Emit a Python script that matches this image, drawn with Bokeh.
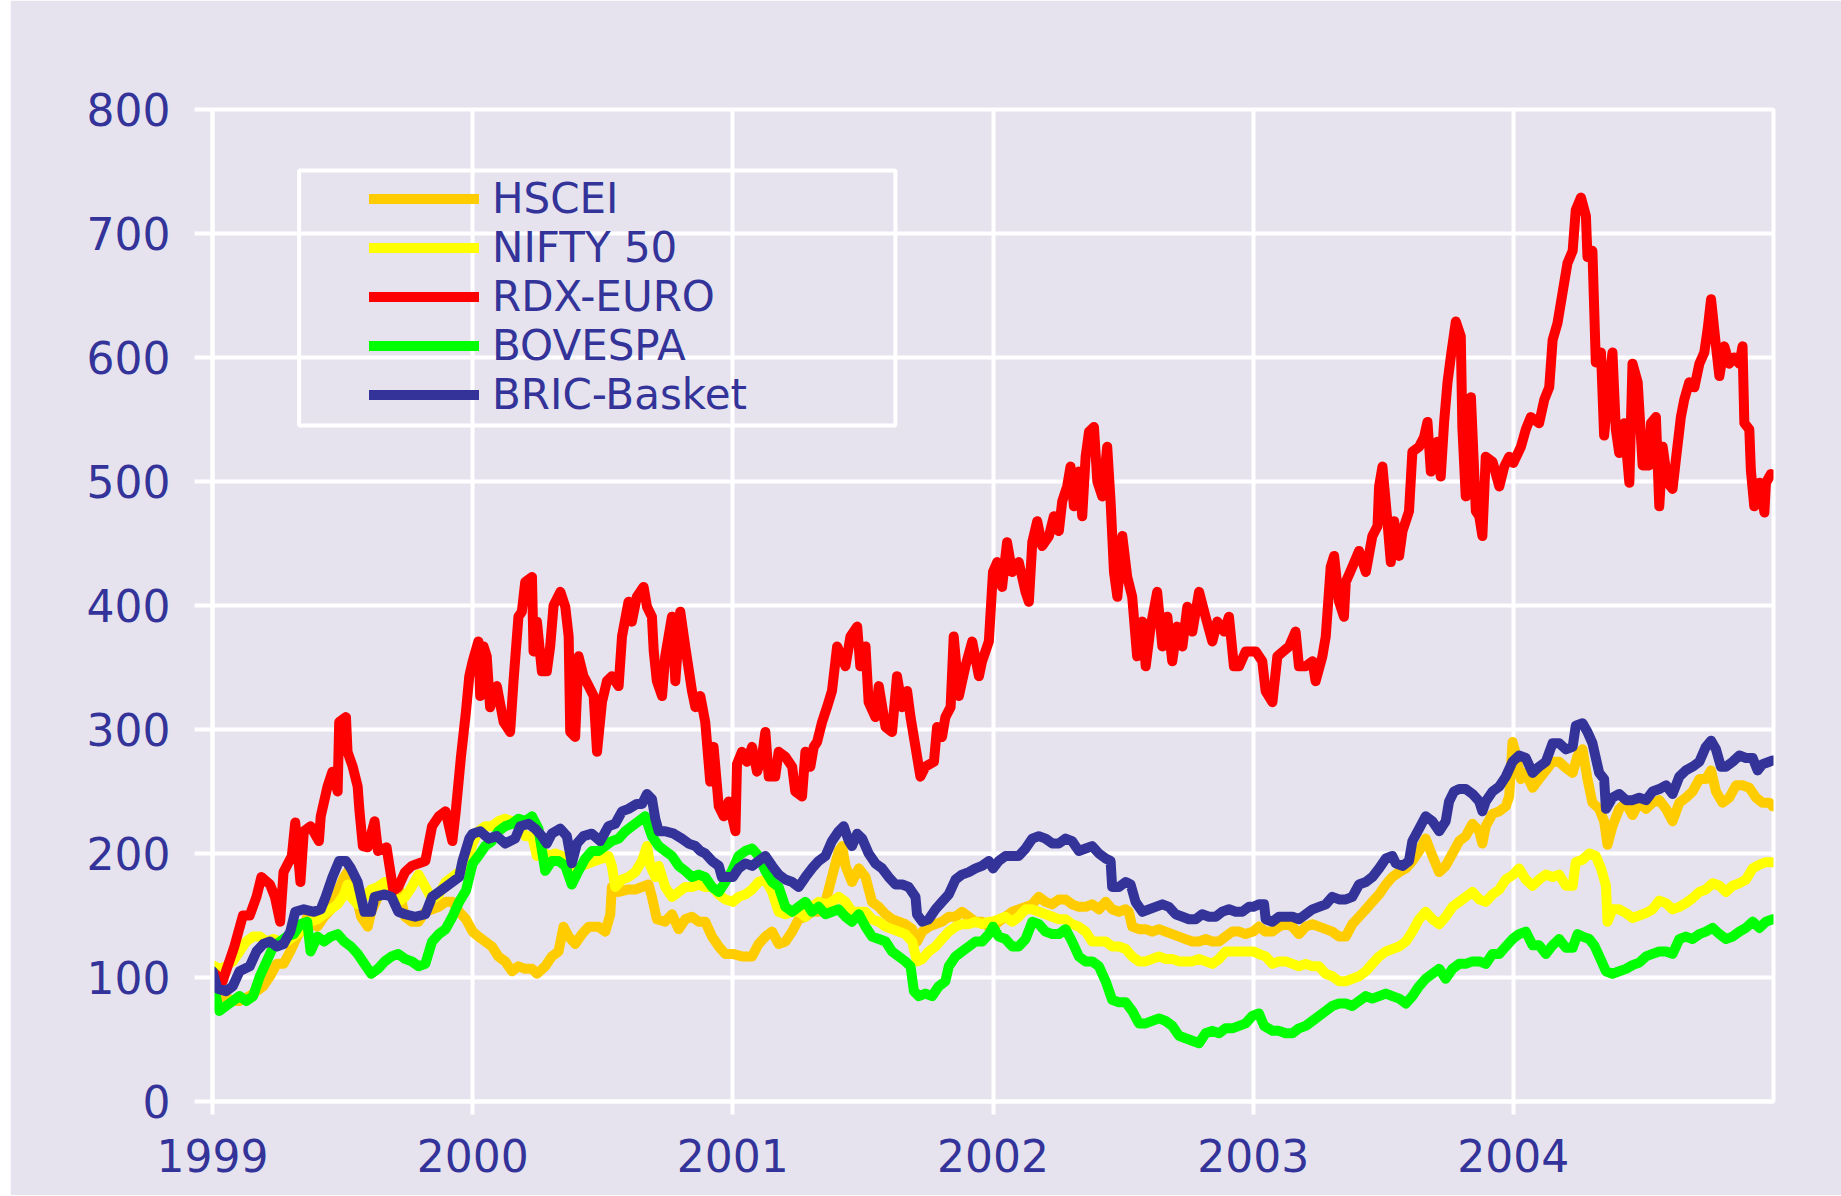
from bokeh.plotting import figure
from bokeh.models import FixedTicker, Legend, LegendItem, BoxAnnotation, Range1d, Spacer
from bokeh.layouts import row
from bokeh.embed import file_html
from bokeh.resources import INLINE

# ---------------- data ----------------
series_names = ["HSCEI", "NIFTY 50", "RDX-EURO", "BOVESPA", "BRIC-Basket"]
year_ticks = [1999, 2000, 2001, 2002, 2003, 2004]
year_labels = ["1999", "2000", "2001", "2002", "2003", "2004"]
value_ticks = [0, 100, 200, 300, 400, 500, 600, 700, 800]

hscei_t = [1999.000, 1999.039, 1999.078, 1999.104, 1999.143, 1999.169, 1999.195, 1999.221, 1999.247, 1999.273,
           1999.299, 1999.325, 1999.351, 1999.364, 1999.377, 1999.403, 1999.429, 1999.455, 1999.481, 1999.506,
           1999.519, 1999.532, 1999.558, 1999.571, 1999.597, 1999.610, 1999.636, 1999.662, 1999.688, 1999.714,
           1999.740, 1999.766, 1999.792, 1999.818, 1999.844, 1999.870, 1999.896, 1999.922, 1999.948, 1999.974,
           2000.000, 2000.022, 2000.048, 2000.074, 2000.099, 2000.125, 2000.151, 2000.176, 2000.202, 2000.228,
           2000.247, 2000.279, 2000.304, 2000.330, 2000.349, 2000.369, 2000.394, 2000.420, 2000.446, 2000.484,
           2000.510, 2000.529, 2000.535, 2000.561, 2000.599, 2000.625, 2000.651, 2000.676, 2000.689, 2000.708,
           2000.740, 2000.766, 2000.792, 2000.817, 2000.843, 2000.869, 2000.894, 2000.920, 2000.946, 2000.971,
           2001.000, 2001.035, 2001.074, 2001.099, 2001.125, 2001.151, 2001.176, 2001.202, 2001.228, 2001.253,
           2001.279, 2001.304, 2001.330, 2001.356, 2001.381, 2001.407, 2001.420, 2001.433, 2001.458, 2001.484,
           2001.510, 2001.535, 2001.561, 2001.587, 2001.612, 2001.638, 2001.663, 2001.689, 2001.708, 2001.728,
           2001.753, 2001.779, 2001.804, 2001.830, 2001.856, 2001.881, 2001.907, 2001.933, 2001.958, 2001.984,
           2002.000, 2002.022, 2002.048, 2002.074, 2002.099, 2002.125, 2002.151, 2002.176, 2002.202, 2002.228,
           2002.253, 2002.279, 2002.304, 2002.330, 2002.356, 2002.381, 2002.407, 2002.433, 2002.458, 2002.484,
           2002.510, 2002.522, 2002.535, 2002.561, 2002.587, 2002.612, 2002.638, 2002.663, 2002.689, 2002.715,
           2002.740, 2002.766, 2002.792, 2002.817, 2002.843, 2002.869, 2002.894, 2002.920, 2002.946, 2002.971,
           2003.000, 2003.022, 2003.048, 2003.074, 2003.099, 2003.125, 2003.151, 2003.176, 2003.202, 2003.228,
           2003.253, 2003.279, 2003.304, 2003.330, 2003.356, 2003.381, 2003.407, 2003.433, 2003.458, 2003.484,
           2003.510, 2003.535, 2003.561, 2003.587, 2003.612, 2003.638, 2003.663, 2003.689, 2003.715, 2003.740,
           2003.766, 2003.792, 2003.817, 2003.843, 2003.869, 2003.881, 2003.894, 2003.920, 2003.946, 2003.971,
           2003.984, 2003.997, 2004.010, 2004.029, 2004.048, 2004.074, 2004.099, 2004.125, 2004.151, 2004.176,
           2004.202, 2004.228, 2004.247, 2004.266, 2004.285, 2004.304, 2004.330, 2004.349, 2004.362, 2004.381,
           2004.407, 2004.433, 2004.458, 2004.484, 2004.510, 2004.535, 2004.561, 2004.587, 2004.612, 2004.638,
           2004.663, 2004.689, 2004.715, 2004.740, 2004.760, 2004.779, 2004.804, 2004.830, 2004.856, 2004.881,
           2004.907, 2004.933, 2004.958, 2004.984, 2004.997]
hscei_v = [105, 85, 81, 81, 85, 89, 93, 101, 111, 111,
           121, 133, 141, 149, 145, 141, 149, 155, 169, 181,
           185, 169, 161, 149, 141, 153, 165, 169, 173, 173,
           149, 145, 145, 153, 155, 157, 161, 161, 153, 147,
           137, 133, 129, 125, 117, 113, 105, 109, 107, 107,
           103, 109, 117, 121, 141, 133, 127, 135, 141, 141,
           137, 151, 173, 169, 171, 171, 173, 175, 165, 147,
           145, 151, 139, 147, 149, 145, 145, 133, 125, 119,
           119, 117, 117, 127, 133, 137, 127, 129, 137, 147,
           149, 153, 153, 161, 181, 202, 206, 190, 177, 188,
           181, 161, 157, 151, 147, 145, 143, 139, 129, 137,
           141, 143, 145, 149, 149, 153, 149, 145, 145, 141,
           141, 145, 149, 153, 155, 157, 159, 165, 161, 159,
           163, 163, 159, 157, 157, 159, 155, 161, 155, 153,
           155, 153, 141, 139, 139, 137, 139, 137, 135, 133,
           131, 129, 129, 131, 129, 129, 133, 137, 137, 135,
           137, 141, 137, 137, 141, 143, 141, 135, 141, 143,
           141, 139, 137, 133, 133, 143, 149, 155, 161, 167,
           175, 181, 185, 188, 194, 202, 212, 198, 185, 190,
           200, 210, 214, 224, 218, 208, 222, 232, 234, 238,
           246, 290, 280, 260, 265, 253, 260, 267, 274, 274,
           269, 265, 279, 284, 260, 241, 236, 226, 207, 222,
           236, 241, 231, 241, 236, 241, 243, 236, 226, 241,
           245, 250, 260, 260, 267, 250, 241, 245, 255, 255,
           253, 245, 241, 241, 238]

nifty_t = [1999.000, 1999.026, 1999.052, 1999.078, 1999.104, 1999.130, 1999.156, 1999.182, 1999.208, 1999.234,
           1999.260, 1999.286, 1999.312, 1999.338, 1999.351, 1999.377, 1999.403, 1999.429, 1999.455, 1999.481,
           1999.506, 1999.519, 1999.532, 1999.558, 1999.584, 1999.610, 1999.636, 1999.662, 1999.688, 1999.714,
           1999.740, 1999.766, 1999.792, 1999.818, 1999.844, 1999.870, 1999.896, 1999.922, 1999.948, 1999.974,
           2000.000, 2000.022, 2000.048, 2000.074, 2000.099, 2000.125, 2000.151, 2000.176, 2000.202, 2000.228,
           2000.247, 2000.266, 2000.292, 2000.317, 2000.343, 2000.369, 2000.394, 2000.420, 2000.446, 2000.471,
           2000.497, 2000.522, 2000.535, 2000.548, 2000.574, 2000.599, 2000.625, 2000.651, 2000.670, 2000.683,
           2000.702, 2000.715, 2000.740, 2000.766, 2000.792, 2000.817, 2000.843, 2000.869, 2000.894, 2000.920,
           2000.946, 2000.971,
           2001.000, 2001.022, 2001.048, 2001.074, 2001.099, 2001.125, 2001.151, 2001.176, 2001.202, 2001.228,
           2001.253, 2001.279, 2001.304, 2001.330, 2001.356, 2001.381, 2001.407, 2001.433, 2001.458, 2001.484,
           2001.510, 2001.535, 2001.561, 2001.587, 2001.612, 2001.638, 2001.663, 2001.689, 2001.708, 2001.728,
           2001.753, 2001.779, 2001.804, 2001.830, 2001.856, 2001.881, 2001.907, 2001.933, 2001.958, 2001.984,
           2002.000, 2002.022, 2002.048, 2002.074, 2002.099, 2002.125, 2002.151, 2002.176, 2002.202, 2002.228,
           2002.253, 2002.279, 2002.304, 2002.330, 2002.356, 2002.381, 2002.407, 2002.433, 2002.458, 2002.484,
           2002.510, 2002.535, 2002.561, 2002.587, 2002.612, 2002.638, 2002.663, 2002.689, 2002.715, 2002.740,
           2002.766, 2002.792, 2002.817, 2002.843, 2002.869, 2002.894, 2002.920, 2002.946, 2002.971,
           2003.000, 2003.022, 2003.048, 2003.074, 2003.099, 2003.125, 2003.151, 2003.176, 2003.202, 2003.228,
           2003.253, 2003.279, 2003.304, 2003.330, 2003.356, 2003.381, 2003.407, 2003.433, 2003.458, 2003.484,
           2003.510, 2003.535, 2003.561, 2003.587, 2003.612, 2003.638, 2003.663, 2003.689, 2003.715, 2003.740,
           2003.766, 2003.792, 2003.817, 2003.843, 2003.869, 2003.894, 2003.920, 2003.946, 2003.971,
           2004.000, 2004.022, 2004.048, 2004.074, 2004.099, 2004.125, 2004.151, 2004.176, 2004.202, 2004.228,
           2004.240, 2004.266, 2004.292, 2004.317, 2004.337, 2004.356, 2004.362, 2004.381, 2004.407, 2004.433,
           2004.458, 2004.484, 2004.510, 2004.535, 2004.561, 2004.587, 2004.612, 2004.638, 2004.663, 2004.689,
           2004.715, 2004.740, 2004.766, 2004.792, 2004.817, 2004.843, 2004.869, 2004.894, 2004.920, 2004.946,
           2004.971, 2004.997]
nifty_v = [110, 107, 109, 113, 121, 129, 133, 133, 129, 131,
           129, 129, 133, 137, 141, 145, 147, 151, 155, 159,
           167, 175, 165, 159, 165, 171, 173, 177, 167, 161,
           165, 173, 183, 173, 163, 167, 177, 181, 185, 190,
           208, 218, 222, 222, 226, 228, 226, 222, 214, 214,
           198, 202, 198, 200, 198, 190, 185, 190, 192, 194,
           196, 198, 190, 173, 179, 181, 185, 194, 206, 190,
           181, 190, 173, 165, 169, 173, 173, 175, 173, 173,
           167, 163,
           161, 165, 167, 171, 177, 179, 169, 153, 151, 153,
           153, 149, 157, 161, 159, 161, 165, 161, 153, 153,
           153, 147, 145, 141, 139, 137, 135, 129, 113, 115,
           121, 125, 131, 137, 141, 143, 143, 145, 143, 145,
           145, 147, 149, 145, 149, 155, 155, 153, 151, 149,
           147, 147, 143, 141, 137, 129, 129, 129, 125, 125,
           123, 117, 113, 113, 115, 117, 115, 115, 113, 113,
           113, 115, 113, 111, 115, 121, 121, 121, 121,
           121, 119, 117, 111, 113, 113, 111, 109, 111, 109,
           109, 103, 101, 97, 97, 99, 101, 105, 111, 117,
           121, 123, 125, 129, 137, 147, 153, 147, 143, 149,
           157, 161, 165, 169, 163, 161, 167, 171, 179,
           183, 188, 179, 174, 179, 183, 181, 183, 174, 174,
           193, 195, 200, 198, 188, 174, 145, 155, 155, 152,
           148, 150, 152, 155, 162, 160, 155, 157, 160, 164,
           169, 171, 176, 174, 169, 174, 176, 179, 188, 191,
           193, 193]

rdx_t = [1999.000, 1999.039, 1999.084, 1999.117, 1999.143, 1999.169, 1999.188, 1999.221, 1999.240, 1999.260,
         1999.273, 1999.305, 1999.318, 1999.338, 1999.351, 1999.377, 1999.409, 1999.416, 1999.442, 1999.461,
         1999.481, 1999.487, 1999.513, 1999.519, 1999.539, 1999.558, 1999.565, 1999.578, 1999.597, 1999.623,
         1999.636, 1999.669, 1999.695, 1999.714, 1999.740, 1999.766, 1999.818, 1999.844, 1999.870, 1999.896,
         1999.922, 1999.935, 1999.955, 1999.974, 1999.987,
         2000.000, 2000.022, 2000.029, 2000.042, 2000.054, 2000.067, 2000.093, 2000.119, 2000.144, 2000.157,
         2000.176, 2000.189, 2000.202, 2000.228, 2000.234, 2000.247, 2000.266, 2000.285, 2000.298, 2000.311,
         2000.337, 2000.356, 2000.369, 2000.375, 2000.394, 2000.407, 2000.426, 2000.446, 2000.465, 2000.478,
         2000.497, 2000.516, 2000.535, 2000.561, 2000.574, 2000.599, 2000.612, 2000.631, 2000.657, 2000.670,
         2000.689, 2000.696, 2000.708, 2000.728, 2000.740, 2000.766, 2000.779, 2000.798, 2000.817, 2000.843,
         2000.856, 2000.875, 2000.894, 2000.913, 2000.926, 2000.946, 2000.965, 2000.984,
         2001.010, 2001.016, 2001.035, 2001.054, 2001.074, 2001.093, 2001.112, 2001.125, 2001.138, 2001.163,
         2001.176, 2001.202, 2001.228, 2001.240, 2001.266, 2001.279, 2001.298, 2001.311, 2001.324, 2001.343,
         2001.362, 2001.381, 2001.401, 2001.433, 2001.452, 2001.478, 2001.490, 2001.510, 2001.522, 2001.548,
         2001.561, 2001.587, 2001.612, 2001.631, 2001.651, 2001.670, 2001.683, 2001.702, 2001.721, 2001.740,
         2001.773, 2001.785, 2001.804, 2001.817, 2001.837, 2001.849, 2001.869, 2001.894, 2001.920, 2001.946,
         2001.958, 2001.984,
         2002.000, 2002.016, 2002.035, 2002.054, 2002.074, 2002.099, 2002.125, 2002.138, 2002.151, 2002.170,
         2002.189, 2002.215, 2002.234, 2002.253, 2002.266, 2002.285, 2002.298, 2002.311, 2002.330, 2002.343,
         2002.356, 2002.369, 2002.388, 2002.401, 2002.420, 2002.439, 2002.452, 2002.465, 2002.478, 2002.497,
         2002.516, 2002.535, 2002.554, 2002.574, 2002.587, 2002.606, 2002.631, 2002.651, 2002.670, 2002.689,
         2002.708, 2002.728, 2002.747, 2002.766, 2002.792, 2002.817, 2002.843, 2002.862, 2002.888, 2002.907,
         2002.926, 2002.946, 2002.971,
         2003.010, 2003.035, 2003.048, 2003.074, 2003.093, 2003.138, 2003.163, 2003.176, 2003.202, 2003.228,
         2003.240, 2003.266, 2003.279, 2003.298, 2003.311, 2003.330, 2003.349, 2003.356, 2003.381, 2003.407,
         2003.433, 2003.458, 2003.478, 2003.484, 2003.497, 2003.516, 2003.529, 2003.542, 2003.561, 2003.574,
         2003.599, 2003.612, 2003.638, 2003.657, 2003.670, 2003.683, 2003.708, 2003.721, 2003.734, 2003.747,
         2003.760, 2003.779, 2003.798, 2003.804, 2003.817, 2003.837, 2003.856, 2003.869, 2003.881, 2003.894,
         2003.920, 2003.946, 2003.965, 2003.984,
         2004.000, 2004.029, 2004.048, 2004.067, 2004.099, 2004.119, 2004.138, 2004.151, 2004.170, 2004.189,
         2004.208, 2004.228, 2004.240, 2004.260, 2004.279, 2004.285, 2004.304, 2004.311, 2004.317, 2004.337,
         2004.349, 2004.362, 2004.381, 2004.394, 2004.407, 2004.426, 2004.446, 2004.458, 2004.478, 2004.497,
         2004.522, 2004.529, 2004.548, 2004.561, 2004.574, 2004.593, 2004.612, 2004.625, 2004.644, 2004.657,
         2004.676, 2004.696, 2004.715, 2004.734, 2004.747, 2004.760, 2004.779, 2004.792, 2004.811, 2004.830,
         2004.849, 2004.869, 2004.881, 2004.888, 2004.907, 2004.913, 2004.926, 2004.946, 2004.965, 2004.971,
         2004.990]
rdx_v = [105, 97, 125, 150, 150, 165, 181, 175, 165, 145,
         185, 198, 225, 177, 218, 222, 210, 230, 254, 266,
         250, 306, 310, 282, 270, 254, 234, 206, 205, 226,
         202, 205, 170, 173, 185, 190, 194, 222, 230, 234,
         210, 234, 278, 314, 343,
         355, 371, 327, 367, 359, 318, 335, 306, 298, 339,
         391, 395, 419, 423, 363, 387, 347, 347, 367, 400,
         411, 399, 375, 298, 294, 359, 343, 335, 327, 282,
         322, 339, 343, 335, 375, 403, 387, 407, 415, 399,
         391, 363, 339, 327, 359, 391, 339, 395, 367, 331,
         318, 327, 306, 258, 286, 238, 230, 242,
         218, 272, 282, 274, 286, 266, 278, 298, 262, 262,
         282, 278, 270, 250, 246, 282, 270, 286, 290, 306,
         318, 331, 367, 351, 375, 383, 351, 367, 322, 310,
         335, 302, 298, 343, 318, 331, 310, 286, 262, 270,
         274, 302, 294, 310, 318, 375, 327, 351, 371, 343,
         355, 371,
         427, 435, 415, 451, 427, 435, 411, 403, 451, 468,
         448, 456, 472, 460, 484, 496, 512, 480, 508, 472,
         520, 540, 544, 500, 488, 528, 484, 427, 407, 456,
         423, 407, 359, 387, 351, 383, 411, 367, 391, 355,
         383, 367, 399, 379, 411, 391, 371, 387, 379, 391,
         351, 351, 363,
         363, 355, 331, 322, 359, 367, 379, 351, 351, 355,
         339, 359, 375, 431, 440, 403, 391, 419, 431, 444,
         427, 456, 464, 496, 512, 468, 435, 468, 440, 460,
         476, 524, 528, 536, 548, 508, 532, 504, 548, 580,
         601, 629, 617, 544, 488, 568, 476, 472, 456, 520,
         516, 496, 512, 520,
         515, 528, 542, 552, 547, 566, 576, 614, 628, 652,
         676, 686, 719, 729, 714, 681, 686, 638, 596, 604,
         537, 567, 604, 542, 523, 547, 499, 595, 580, 513,
         513, 547, 552, 480, 528, 499, 494, 518, 552, 566,
         580, 576, 595, 604, 623, 647, 609, 585, 609, 595,
         600, 595, 609, 547, 542, 509, 480, 499, 475, 499,
         506]

bovespa_t = [1999.000, 1999.013, 1999.026, 1999.052, 1999.078, 1999.104, 1999.130, 1999.156, 1999.182, 1999.208,
             1999.234, 1999.260, 1999.286, 1999.312, 1999.338, 1999.364, 1999.377, 1999.403, 1999.429, 1999.455,
             1999.481, 1999.506, 1999.532, 1999.558, 1999.584, 1999.610, 1999.636, 1999.662, 1999.688, 1999.714,
             1999.740, 1999.766, 1999.792, 1999.818, 1999.844, 1999.870, 1999.896, 1999.922, 1999.948, 1999.974,
             2000.000, 2000.022, 2000.048, 2000.074, 2000.099, 2000.125, 2000.151, 2000.176, 2000.202, 2000.228,
             2000.253, 2000.279, 2000.304, 2000.330, 2000.356, 2000.381, 2000.407, 2000.433, 2000.458, 2000.484,
             2000.510, 2000.535, 2000.561, 2000.587, 2000.612, 2000.638, 2000.663, 2000.689, 2000.715, 2000.740,
             2000.766, 2000.792, 2000.817, 2000.843, 2000.869, 2000.894, 2000.920, 2000.946, 2000.971, 2000.997,
             2001.022, 2001.048, 2001.074, 2001.099, 2001.125, 2001.151, 2001.176, 2001.202, 2001.228, 2001.253,
             2001.279, 2001.304, 2001.330, 2001.356, 2001.381, 2001.407, 2001.433, 2001.458, 2001.484, 2001.510,
             2001.535, 2001.561, 2001.587, 2001.612, 2001.638, 2001.663, 2001.683, 2001.696, 2001.715, 2001.740,
             2001.766, 2001.792, 2001.817, 2001.830, 2001.856, 2001.881, 2001.907, 2001.933, 2001.958, 2001.984,
             2002.000, 2002.022, 2002.048, 2002.074, 2002.099, 2002.125, 2002.151, 2002.176, 2002.202, 2002.228,
             2002.253, 2002.279, 2002.304, 2002.330, 2002.356, 2002.381, 2002.407, 2002.433, 2002.458, 2002.484,
             2002.510, 2002.535, 2002.561, 2002.587, 2002.612, 2002.638, 2002.663, 2002.689, 2002.715, 2002.740,
             2002.766, 2002.792, 2002.817, 2002.843, 2002.869, 2002.894, 2002.920, 2002.946, 2002.971, 2002.997,
             2003.022, 2003.042, 2003.074, 2003.099, 2003.125, 2003.151, 2003.176, 2003.202, 2003.228, 2003.253,
             2003.279, 2003.304, 2003.330, 2003.356, 2003.381, 2003.407, 2003.433, 2003.458, 2003.484, 2003.510,
             2003.535, 2003.561, 2003.587, 2003.612, 2003.638, 2003.663, 2003.689, 2003.715, 2003.740, 2003.766,
             2003.792, 2003.817, 2003.843, 2003.869, 2003.894, 2003.920, 2003.946, 2003.971, 2003.997,
             2004.022, 2004.048, 2004.074, 2004.099, 2004.125, 2004.151, 2004.176, 2004.202, 2004.228, 2004.247,
             2004.266, 2004.292, 2004.311, 2004.337, 2004.356, 2004.381, 2004.407, 2004.433, 2004.458, 2004.484,
             2004.510, 2004.535, 2004.561, 2004.587, 2004.612, 2004.638, 2004.663, 2004.689, 2004.715, 2004.740,
             2004.766, 2004.792, 2004.817, 2004.843, 2004.869, 2004.894, 2004.920, 2004.946, 2004.971, 2004.997]
bovespa_v = [105, 85, 73, 77, 81, 85, 81, 85, 101, 113,
             125, 129, 133, 135, 143, 145, 121, 133, 129, 133,
             135, 129, 125, 119, 111, 103, 107, 113, 117, 119,
             115, 113, 109, 111, 129, 135, 139, 149, 161, 170,
             192, 198, 206, 210, 218, 222, 224, 228, 226, 230,
             220, 186, 194, 194, 190, 175, 186, 196, 202, 202,
             206, 210, 212, 218, 222, 226, 230, 214, 206, 202,
             198, 190, 186, 181, 183, 181, 173, 169, 177, 186,
             198, 202, 204, 198, 186, 177, 173, 157, 153, 157,
             161, 153, 157, 151, 153, 155, 149, 145, 151, 141,
             133, 131, 129, 121, 117, 113, 109, 89, 85, 87,
             85, 93, 97, 109, 117, 121, 125, 129, 129, 135,
             141, 133, 131, 125, 125, 131, 145, 143, 137, 135,
             135, 139, 129, 117, 113, 113, 109, 97, 82, 80,
             80, 73, 63, 63, 65, 67, 65, 61, 53, 51,
             49, 47, 55, 57, 55, 59, 59, 61, 63, 69,
             71, 61, 57, 57, 55, 55, 59, 61, 65, 69,
             73, 77, 79, 79, 77, 81, 85, 83, 85, 87,
             85, 83, 79, 85, 93, 99, 103, 107, 99, 107,
             111, 111, 113, 113, 111, 119, 119, 125, 131,
             135, 137, 126, 126, 119, 126, 131, 124, 124, 135,
             133, 131, 126, 114, 105, 103, 105, 107, 110, 112,
             117, 119, 121, 121, 119, 131, 133, 131, 135, 137,
             140, 135, 131, 133, 137, 140, 145, 140, 145, 147]

bric_t = [1999.000, 1999.019, 1999.052, 1999.078, 1999.104, 1999.143, 1999.169, 1999.195, 1999.221, 1999.247,
          1999.273, 1999.299, 1999.318, 1999.351, 1999.390, 1999.416, 1999.435, 1999.461, 1999.487, 1999.513,
          1999.532, 1999.558, 1999.584, 1999.610, 1999.623, 1999.662, 1999.688, 1999.714, 1999.740, 1999.779,
          1999.818, 1999.844, 1999.870, 1999.896, 1999.922, 1999.948, 1999.961, 1999.987,
          2000.000, 2000.029, 2000.061, 2000.093, 2000.125, 2000.163, 2000.183, 2000.215, 2000.240, 2000.266,
          2000.285, 2000.304, 2000.337, 2000.362, 2000.381, 2000.401, 2000.426, 2000.458, 2000.490, 2000.522,
          2000.548, 2000.574, 2000.599, 2000.631, 2000.651, 2000.670, 2000.689, 2000.702, 2000.715, 2000.740,
          2000.773, 2000.804, 2000.830, 2000.856, 2000.875, 2000.894, 2000.920, 2000.946, 2000.958, 2000.984,
          2001.000, 2001.022, 2001.048, 2001.074, 2001.099, 2001.125, 2001.151, 2001.176, 2001.202, 2001.228,
          2001.253, 2001.279, 2001.304, 2001.330, 2001.356, 2001.381, 2001.407, 2001.426, 2001.446, 2001.458,
          2001.478, 2001.497, 2001.522, 2001.548, 2001.574, 2001.599, 2001.625, 2001.651, 2001.676, 2001.702,
          2001.708, 2001.728, 2001.753, 2001.779, 2001.804, 2001.830, 2001.856, 2001.881, 2001.907, 2001.933,
          2001.958, 2001.984,
          2002.000, 2002.022, 2002.048, 2002.074, 2002.099, 2002.125, 2002.151, 2002.176, 2002.202, 2002.228,
          2002.253, 2002.279, 2002.304, 2002.330, 2002.356, 2002.381, 2002.407, 2002.433, 2002.452, 2002.458,
          2002.484, 2002.510, 2002.529, 2002.548, 2002.574, 2002.599, 2002.625, 2002.651, 2002.676, 2002.702,
          2002.728, 2002.753, 2002.779, 2002.804, 2002.830, 2002.856, 2002.881, 2002.907, 2002.933, 2002.958,
          2002.984,
          2003.000, 2003.022, 2003.042, 2003.048, 2003.074, 2003.099, 2003.125, 2003.151, 2003.176, 2003.202,
          2003.228, 2003.253, 2003.279, 2003.304, 2003.330, 2003.356, 2003.381, 2003.407, 2003.433, 2003.458,
          2003.484, 2003.510, 2003.535, 2003.548, 2003.574, 2003.599, 2003.612, 2003.638, 2003.663, 2003.689,
          2003.715, 2003.740, 2003.753, 2003.772, 2003.792, 2003.817, 2003.843, 2003.869, 2003.881, 2003.894,
          2003.920, 2003.946, 2003.971, 2003.997,
          2004.022, 2004.048, 2004.074, 2004.099, 2004.125, 2004.151, 2004.176, 2004.202, 2004.228, 2004.240,
          2004.266, 2004.285, 2004.304, 2004.330, 2004.349, 2004.356, 2004.381, 2004.407, 2004.433, 2004.458,
          2004.484, 2004.510, 2004.535, 2004.561, 2004.587, 2004.612, 2004.638, 2004.663, 2004.689, 2004.715,
          2004.740, 2004.760, 2004.779, 2004.798, 2004.817, 2004.843, 2004.869, 2004.894, 2004.920, 2004.939,
          2004.958, 2004.984, 2004.997]
bric_v = [105, 91, 89, 93, 105, 109, 121, 127, 129, 125,
          127, 137, 153, 155, 153, 155, 165, 181, 194, 194,
          188, 177, 153, 153, 165, 167, 165, 153, 151, 149,
          151, 165, 169, 173, 177, 181, 194, 212,
          216, 218, 212, 214, 208, 212, 222, 224, 220, 214,
          208, 216, 220, 214, 192, 208, 214, 216, 210, 222,
          224, 234, 236, 240, 240, 248, 244, 228, 218, 218,
          216, 212, 208, 206, 202, 200, 194, 190, 181, 181,
          181, 188, 192, 190, 194, 198, 190, 183, 179, 177,
          173, 181, 188, 194, 198, 210, 218, 222, 210, 206,
          216, 212, 200, 192, 188, 181, 175, 175, 173, 165,
          151, 145, 147, 155, 161, 167, 179, 183, 185, 188,
          190, 194,
          188, 194, 198, 198, 198, 204, 212, 214, 212, 208,
          208, 212, 210, 202, 204, 206, 200, 196, 194, 173,
          173, 177, 175, 161, 153, 155, 157, 159, 157, 151,
          149, 147, 147, 151, 149, 149, 153, 155, 153, 153,
          157,
          157, 159, 159, 147, 145, 149, 149, 149, 147, 151,
          155, 157, 159, 165, 163, 163, 165, 175, 177, 181,
          188, 196, 198, 192, 190, 194, 210, 220, 230, 226,
          218, 226, 242, 250, 252, 252, 248, 242, 234, 242,
          250, 254, 262, 274,
          279, 277, 265, 270, 274, 289, 289, 284, 286, 303,
          305, 298, 289, 265, 260, 236, 245, 248, 243, 243,
          245, 243, 250, 252, 255, 248, 262, 267, 270, 274,
          286, 291, 284, 270, 270, 274, 279, 277, 277, 267,
          272, 274, 275]

# ---------------- styling ----------------
BG = "#E6E3EE"
TXT = "#333399"
FONT = "DejaVu Sans"
colors = ["#FFCC00", "#FFFF00", "#FF0000", "#00FF00", "#333399"]
series_t = [hscei_t, nifty_t, rdx_t, bovespa_t, bric_t]
series_v = [hscei_v, nifty_v, rdx_v, bovespa_v, bric_v]

LEFT_STRIP = 10
p = figure(width=1841 - LEFT_STRIP, height=1195, output_backend="svg", toolbar_location=None,
           x_range=Range1d(1999, 2005), y_range=Range1d(0, 800),
           min_border_left=212 - LEFT_STRIP, min_border_right=68, min_border_top=109, min_border_bottom=94)
p.background_fill_color = BG
p.border_fill_color = BG
p.outline_line_color = "white"
p.outline_line_width = 4

renderers = []
for t, v, c in zip(series_t, series_v, colors):
    r = p.line(t, v, line_color=c, line_width=10, line_join="round", line_cap="round")
    renderers.append(r)

# axes
p.xaxis.ticker = FixedTicker(ticks=year_ticks)
p.xaxis.major_label_overrides = {y: lab for y, lab in zip(year_ticks, year_labels)}
p.yaxis.ticker = FixedTicker(ticks=value_ticks)
for ax in (p.xaxis[0], p.yaxis[0]):
    ax.axis_line_color = "white"
    ax.axis_line_width = 4
    ax.major_tick_line_color = "white"
    ax.major_tick_line_width = 4
    ax.major_tick_in = 0
    ax.minor_tick_line_color = None
    ax.major_label_text_color = TXT
    ax.major_label_text_font = FONT
    ax.major_label_text_font_size = "44px"
p.xaxis.major_tick_out = 13
p.xaxis.major_label_standoff = 24
p.yaxis.major_tick_out = 18
p.yaxis.major_label_standoff = 24

p.xgrid.ticker = FixedTicker(ticks=year_ticks)
p.ygrid.ticker = FixedTicker(ticks=value_ticks)
for g in (p.xgrid[0], p.ygrid[0]):
    g.grid_line_color = "white"
    g.grid_line_width = 4

# legend frame
box = BoxAnnotation(left=1999.333, right=2001.625, bottom=545.2, top=750.8,
                    fill_alpha=0, line_color="white", line_alpha=1.0, line_width=4, level="overlay")
p.add_layout(box)

legend = Legend(items=[LegendItem(label=n, renderers=[r]) for n, r in zip(series_names, renderers)],
                location=(157, 682), padding=0, spacing=0,
                glyph_width=110, glyph_height=49, label_height=49, label_standoff=13,
                label_text_font=FONT, label_text_font_size="42px", label_text_color=TXT,
                border_line_alpha=0, background_fill_alpha=0)
p.add_layout(legend, "center")

layout = row(Spacer(width=LEFT_STRIP, height=1195), p)
open("out.html", "w").write(file_html(layout, INLINE))
